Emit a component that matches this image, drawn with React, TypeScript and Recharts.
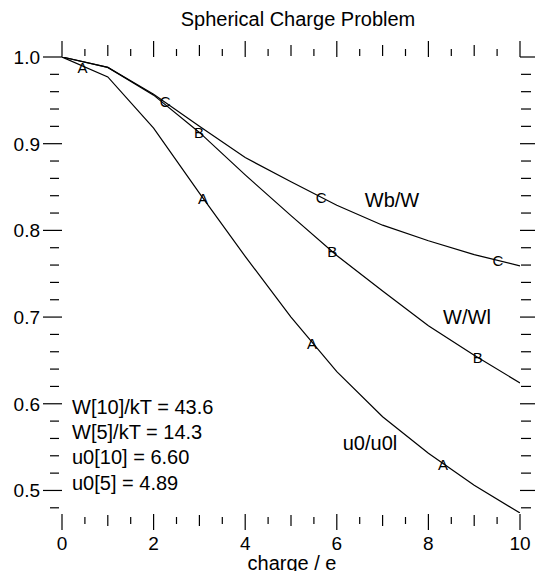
import { ComposedChart, Line, Scatter, XAxis, YAxis } from "recharts";

// axis ticks
const xMajorTicks = [0, 2, 4, 6, 8, 10];
const xMinorTicks = [0.5, 1, 1.5, 2.5, 3, 3.5, 4.5, 5, 5.5, 6.5, 7, 7.5, 8.5, 9, 9.5];
const yMajorTicks = [0.5, 0.6, 0.7, 0.8, 0.9, 1.0];
const yMinorTicks = [
  0.48, 0.52, 0.54, 0.56, 0.58, 0.62, 0.64, 0.66, 0.68, 0.72, 0.74, 0.76, 0.78,
  0.82, 0.84, 0.86, 0.88, 0.92, 0.94, 0.96, 0.98,
];

// curves (charge / e on x)
const charge = [0, 1, 2, 3, 4, 5, 6, 7, 8, 9, 10];
const u0Ratio = [1.0, 0.977, 0.918, 0.843, 0.77, 0.7, 0.637, 0.585, 0.543, 0.506, 0.474];
const wRatio = [1.0, 0.988, 0.956, 0.913, 0.864, 0.817, 0.771, 0.73, 0.69, 0.656, 0.624];
const wbRatio = [1.0, 0.988, 0.957, 0.92, 0.884, 0.856, 0.829, 0.806, 0.788, 0.772, 0.759];

// letter markers along the curves
const markA = [
  { x: 0.45, y: 0.988 },
  { x: 3.08, y: 0.837 },
  { x: 5.46, y: 0.67 },
  { x: 8.32, y: 0.53 },
];
const markB = [
  { x: 2.99, y: 0.913 },
  { x: 5.9, y: 0.776 },
  { x: 9.08, y: 0.653 },
];
const markC = [
  { x: 2.25, y: 0.949 },
  { x: 5.66, y: 0.838 },
  { x: 9.52, y: 0.765 },
];

const curveNames = ["u0/u0l", "W/Wl", "Wb/W"];
const notes = ["W[10]/kT = 43.6", "W[5]/kT = 14.3", "u0[10] = 6.60", "u0[5] = 4.89"];

const toPoints = (ys: number[]) => charge.map((x, i) => ({ x, y: ys[i] }));

const FONT = "'Liberation Sans', Arial, Helvetica, sans-serif";
const W = 535;
const H = 571;
const PLOT = { left: 62, top: 57, right: 520, bottom: 513 };
const AX = { left: 40, right: 15, top: 20, bottom: 40 };

const xTickLen = (v: number) => (xMajorTicks.includes(v) ? 16 : Number.isInteger(v) ? 11 : 7);

const BottomTick = (props: any) => {
  const { x, y, payload } = props;
  const v = payload.value;
  const major = xMajorTicks.includes(v);
  const len = xTickLen(v);
  const y0 = y + (major ? 1 : len === 11 ? 2 : 4);
  return (
    <g>
      <line x1={x} x2={x} y1={y0} y2={y0 + len} stroke="#000" strokeWidth={1.2} />
      {major && (
        <text x={x} y={y + 37} textAnchor="middle" fontSize={19} fontFamily={FONT} fill="#000">
          {v}
        </text>
      )}
    </g>
  );
};

const TopTick = (props: any) => {
  const { x, y, payload } = props;
  const v = payload.value;
  const major = xMajorTicks.includes(v);
  const len = xTickLen(v);
  const y1 = major ? y : y - 1;
  return <line x1={x} x2={x} y1={y1} y2={y1 - len} stroke="#000" strokeWidth={1.2} />;
};

const LeftTick = (props: any) => {
  const { x, y, payload } = props;
  const v = payload.value;
  const major = yMajorTicks.includes(v);
  return (
    <g>
      {major ? (
        <line x1={x - 19} x2={x} y1={y} y2={y} stroke="#000" strokeWidth={1.2} />
      ) : (
        <line x1={x - 12} x2={x - 3} y1={y} y2={y} stroke="#000" strokeWidth={1.2} />
      )}
      {major && (
        <text x={x - 22} y={y + 7} textAnchor="end" fontSize={19} fontFamily={FONT} fill="#000">
          {v.toFixed(1)}
        </text>
      )}
    </g>
  );
};

const RightTick = (props: any) => {
  const { x, y, payload } = props;
  const major = yMajorTicks.includes(payload.value);
  return major ? (
    <line x1={x} x2={x + 15} y1={y} y2={y} stroke="#000" strokeWidth={1.2} />
  ) : (
    <line x1={x + 1} x2={x + 11} y1={y} y2={y} stroke="#000" strokeWidth={1.2} />
  );
};

const letter = (ch: string) => (props: any) => (
  <text
    x={props.cx}
    y={props.cy + 5.5}
    textAnchor="middle"
    fontSize={15}
    fontFamily={FONT}
    fill="#000"
  >
    {ch}
  </text>
);

// pixel placement of the free text
const curveNamePos = [
  { x: 370, y: 450 },
  { x: 467, y: 324 },
  { x: 392, y: 207 },
];
const notesLeft = 72;
const notesBaselines = [414, 439, 464, 490];

const axisCommon = {
  type: "number" as const,
  interval: 0 as const,
  tickSize: 0,
  tickMargin: 0,
  axisLine: false,
  tickLine: false,
  allowDataOverflow: true,
};

const App = () => (
  <div style={{ position: "absolute", left: 0, top: 0, width: W, height: H, background: "#fff" }}>
    <ComposedChart
      width={W}
      height={H}
      margin={{
        top: PLOT.top - AX.top,
        left: PLOT.left - AX.left,
        right: W - PLOT.right - AX.right,
        bottom: H - PLOT.bottom - AX.bottom,
      }}
    >
      <XAxis
        {...axisCommon}
        xAxisId="b"
        dataKey="x"
        domain={[0, 10]}
        ticks={[...xMajorTicks, ...xMinorTicks]}
        height={AX.bottom}
        tick={(p: any) => <BottomTick {...p} />}
      />
      <XAxis
        {...axisCommon}
        xAxisId="t"
        orientation="top"
        dataKey="x"
        domain={[0, 10]}
        ticks={[...xMajorTicks, ...xMinorTicks]}
        height={AX.top}
        tick={(p: any) => <TopTick {...p} />}
      />
      <YAxis
        {...axisCommon}
        yAxisId="l"
        domain={[0.474, 1.0]}
        ticks={[...yMajorTicks, ...yMinorTicks]}
        width={AX.left}
        tick={(p: any) => <LeftTick {...p} />}
      />
      <YAxis
        {...axisCommon}
        yAxisId="r"
        orientation="right"
        domain={[0.474, 1.0]}
        ticks={[...yMajorTicks, ...yMinorTicks]}
        width={AX.right}
        tick={(p: any) => <RightTick {...p} />}
      />
      <Line xAxisId="b" yAxisId="l" data={toPoints(u0Ratio)} dataKey="y" type="linear" stroke="#000" strokeWidth={1.2} dot={false} isAnimationActive={false} />
      <Line xAxisId="b" yAxisId="l" data={toPoints(wRatio)} dataKey="y" type="linear" stroke="#000" strokeWidth={1.2} dot={false} isAnimationActive={false} />
      <Line xAxisId="b" yAxisId="l" data={toPoints(wbRatio)} dataKey="y" type="linear" stroke="#000" strokeWidth={1.2} dot={false} isAnimationActive={false} />
      <Scatter xAxisId="b" yAxisId="l" data={markA} dataKey="y" shape={letter("A")} isAnimationActive={false} />
      <Scatter xAxisId="b" yAxisId="l" data={markB} dataKey="y" shape={letter("B")} isAnimationActive={false} />
      <Scatter xAxisId="b" yAxisId="l" data={markC} dataKey="y" shape={letter("C")} isAnimationActive={false} />
    </ComposedChart>
    <svg width={W} height={H} style={{ position: "absolute", left: 0, top: 0, pointerEvents: "none" }}>
      <g fontFamily={FONT} fill="#000">
        <text x={298} y={26} textAnchor="middle" fontSize={20}>
          Spherical Charge Problem
        </text>
        <text x={292} y={570} textAnchor="middle" fontSize={20}>
          charge / e
        </text>
        {curveNames.map((name, i) => (
          <text key={name} x={curveNamePos[i].x} y={curveNamePos[i].y} textAnchor="middle" fontSize={20}>
            {name}
          </text>
        ))}
        {notes.map((n, i) => (
          <text key={n} x={notesLeft} y={notesBaselines[i]} fontSize={20}>
            {n}
          </text>
        ))}
      </g>
    </svg>
  </div>
);

export default App;
